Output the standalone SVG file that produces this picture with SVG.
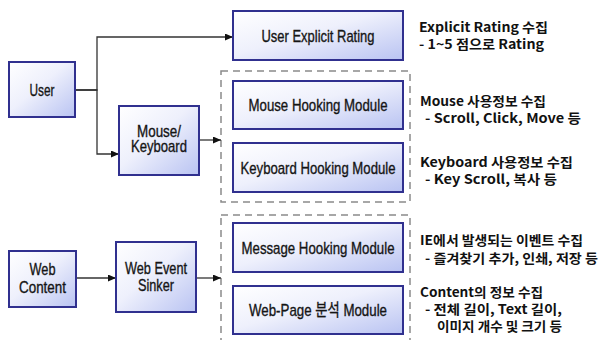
<svg xmlns="http://www.w3.org/2000/svg" width="601" height="340" viewBox="0 0 601 340">
<defs>
<linearGradient id="g" x1="0" y1="0" x2="1" y2="1">
<stop offset="0" stop-color="#ffffff"/>
<stop offset="0.45" stop-color="#eef0fc"/>
<stop offset="1" stop-color="#b9c3f2"/>
</linearGradient>
<marker id="ah" markerWidth="8" markerHeight="8" refX="8" refY="3.5" orient="auto" markerUnits="userSpaceOnUse">
<path d="M0,0 L8,3.5 L0,7 z" fill="#111"/>
</marker>
<style>
.box{fill:url(#g);stroke:#30308f;stroke-width:2}
.grp{fill:none;stroke:#8a8a8a;stroke-width:1.5;stroke-dasharray:7 5}
.lbl{font-family:"Liberation Sans","Noto Sans CJK KR",sans-serif;font-size:17px;fill:#151515;stroke:#151515;stroke-width:0.35;text-anchor:middle}
.note{font-family:"Noto Sans CJK KR","Noto Sans",sans-serif;font-size:13px;font-weight:bold;fill:#111}
.con{fill:none;stroke:#333;stroke-width:1.3;marker-end:url(#ah)}
</style>
</defs>
<rect width="601" height="340" fill="#fff"/>

<g id="group-mouse-keyboard"><rect class="grp" x="221" y="71" width="189" height="131"/></g>
<g id="group-web"><rect class="grp" x="221" y="215" width="189" height="140"/></g>

<g id="connectors">
<path class="con" d="M75,90 H97 V37 H233"/>
<path class="con" d="M75,90 H97 V154 H119"/>
<path class="con" d="M199,140 H221"/>
<path class="con" d="M76,278 H116"/>
<path class="con" d="M196,278 H221"/>
</g>

<g id="user"><rect class="box" x="9" y="62" width="66" height="55"/><text class="lbl" x="42" y="96" textLength="25" lengthAdjust="spacingAndGlyphs">User</text></g>
<g id="explicit"><rect class="box" x="233" y="11" width="170" height="49"/><text class="lbl" x="318" y="41.5" textLength="113" lengthAdjust="spacingAndGlyphs">User Explicit Rating</text></g>
<g id="mousekb"><rect class="box" x="119" y="106" width="80" height="69"/><text class="lbl" x="159" y="137" textLength="44" lengthAdjust="spacingAndGlyphs">Mouse/</text><text class="lbl" x="159" y="152" textLength="56" lengthAdjust="spacingAndGlyphs">Keyboard</text></g>
<g id="mousehook"><rect class="box" x="233" y="81" width="170" height="48"/><text class="lbl" x="318" y="111" textLength="139" lengthAdjust="spacingAndGlyphs">Mouse Hooking Module</text></g>
<g id="kbhook"><rect class="box" x="233" y="143" width="170" height="49"/><text class="lbl" x="318" y="173.5" textLength="155" lengthAdjust="spacingAndGlyphs">Keyboard Hooking Module</text></g>
<g id="webcontent"><rect class="box" x="9" y="251" width="67" height="56"/><text class="lbl" x="42.5" y="274.5" textLength="26" lengthAdjust="spacingAndGlyphs">Web</text><text class="lbl" x="42.5" y="292.5" textLength="47" lengthAdjust="spacingAndGlyphs">Content</text></g>
<g id="sinker"><rect class="box" x="116" y="242" width="80" height="70"/><text class="lbl" x="156" y="274" textLength="62" lengthAdjust="spacingAndGlyphs">Web Event</text><text class="lbl" x="156" y="291" textLength="36" lengthAdjust="spacingAndGlyphs">Sinker</text></g>
<g id="msghook"><rect class="box" x="233" y="223" width="170" height="49"/><text class="lbl" x="318" y="253.5" textLength="153" lengthAdjust="spacingAndGlyphs">Message Hooking Module</text></g>
<g id="webpage"><rect class="box" x="233" y="286" width="170" height="48"/><text class="lbl" x="318" y="316" textLength="138" lengthAdjust="spacingAndGlyphs">Web-Page 분석 Module</text></g>

<g id="notes">
<text class="note" x="419" y="32" textLength="129" lengthAdjust="spacingAndGlyphs">Explicit Rating 수집</text>
<text class="note" x="419" y="48.5" textLength="125" lengthAdjust="spacingAndGlyphs">- 1~5 점으로 Rating</text>
<text class="note" x="420" y="106" textLength="126" lengthAdjust="spacingAndGlyphs">Mouse 사용정보 수집</text>
<text class="note" x="425" y="123" textLength="156" lengthAdjust="spacingAndGlyphs">- Scroll, Click, Move 등</text>
<text class="note" x="420" y="167" textLength="153" lengthAdjust="spacingAndGlyphs">Keyboard 사용정보 수집</text>
<text class="note" x="425" y="183.5" textLength="132" lengthAdjust="spacingAndGlyphs">- Key Scroll, 복사 등</text>
<text class="note" x="420" y="245" textLength="163" lengthAdjust="spacingAndGlyphs">IE에서 발생되는 이벤트 수집</text>
<text class="note" x="425" y="262.5" textLength="173" lengthAdjust="spacingAndGlyphs">- 즐겨찾기 추가, 인쇄, 저장 등</text>
<text class="note" x="420" y="297" textLength="123" lengthAdjust="spacingAndGlyphs">Content의 정보 수집</text>
<text class="note" x="425" y="314" textLength="137" lengthAdjust="spacingAndGlyphs">- 전체 길이, Text 길이,</text>
<text class="note" x="437" y="330.5" textLength="125" lengthAdjust="spacingAndGlyphs">이미지 개수 및 크기 등</text>
</g>
</svg>
